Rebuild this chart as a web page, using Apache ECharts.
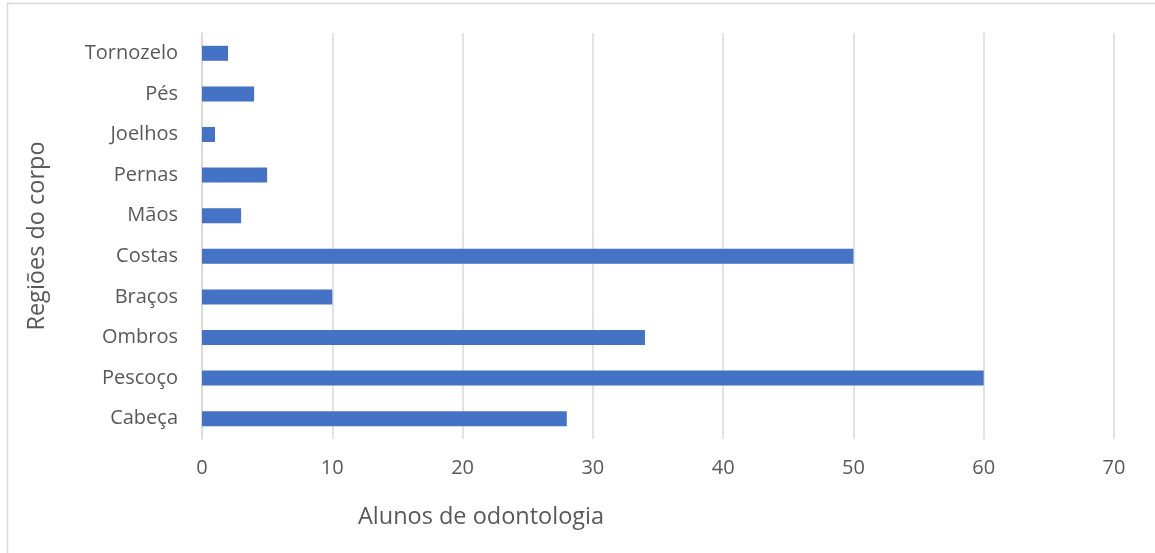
<!DOCTYPE html>
<html><head><meta charset="utf-8">
<script src="https://cdn.jsdelivr.net/npm/echarts@6/dist/echarts.min.js"></script>
<style>html,body{margin:0;padding:0;background:#fff}#c{width:1155px;height:553px}</style>
</head><body><div id="c"></div>
<script>
var categories = ['Cabeça','Pescoço','Ombros','Braços','Costas','Mãos','Pernas','Joelhos','Pés','Tornozelo'];
var values = [28, 60, 34, 10, 50, 3, 5, 1, 4, 2];
var xTicks = [0, 10, 20, 30, 40, 50, 60, 70];
var xTitle = 'Alunos de odontologia';
var yTitle = 'Regiões do corpo';

var chart = echarts.init(document.getElementById('c'));
var font = '"Open Sans", sans-serif';
chart.setOption({
  animation: false,
  grid: {left: 202, right: 41, top: 33, bottom: 114, containLabel: false},
  xAxis: {
    type: 'value', min: xTicks[0], max: xTicks[xTicks.length-1], interval: 10,
    axisLine: {show: false}, axisTick: {show: false},
    splitLine: {show: true, lineStyle: {color: '#d9d9d9', width: 1.5}},
    axisLabel: {color: '#595959', fontSize: 20, fontFamily: font, margin: 19}
  },
  yAxis: {
    type: 'category', data: categories,
    axisLine: {show: true, lineStyle: {color: '#d9d9d9', width: 1.5}},
    axisTick: {show: false},
    axisLabel: {color: '#595959', fontSize: 20, fontFamily: font, margin: 24}
  },
  series: [{
    type: 'bar', data: values, barWidth: 15,
    itemStyle: {color: '#4472c4'}
  }],
  graphic: [
    {type: 'rect', shape: {x: 7.5, y: 3.5, width: 1200, height: 600}, style: {fill: 'none', stroke: '#d9d9d9', lineWidth: 1.5}, silent: true},
    {type: 'text', x: 481, y: 517, style: {text: xTitle, fill: '#595959', font: '23.5px ' + font, textAlign: 'center', textVerticalAlign: 'middle'}},
    {type: 'text', x: 37, y: 236, rotation: Math.PI/2, style: {text: yTitle, fill: '#595959', font: '23.5px ' + font, textAlign: 'center', textVerticalAlign: 'middle'}}
  ]
});
</script></body></html>
